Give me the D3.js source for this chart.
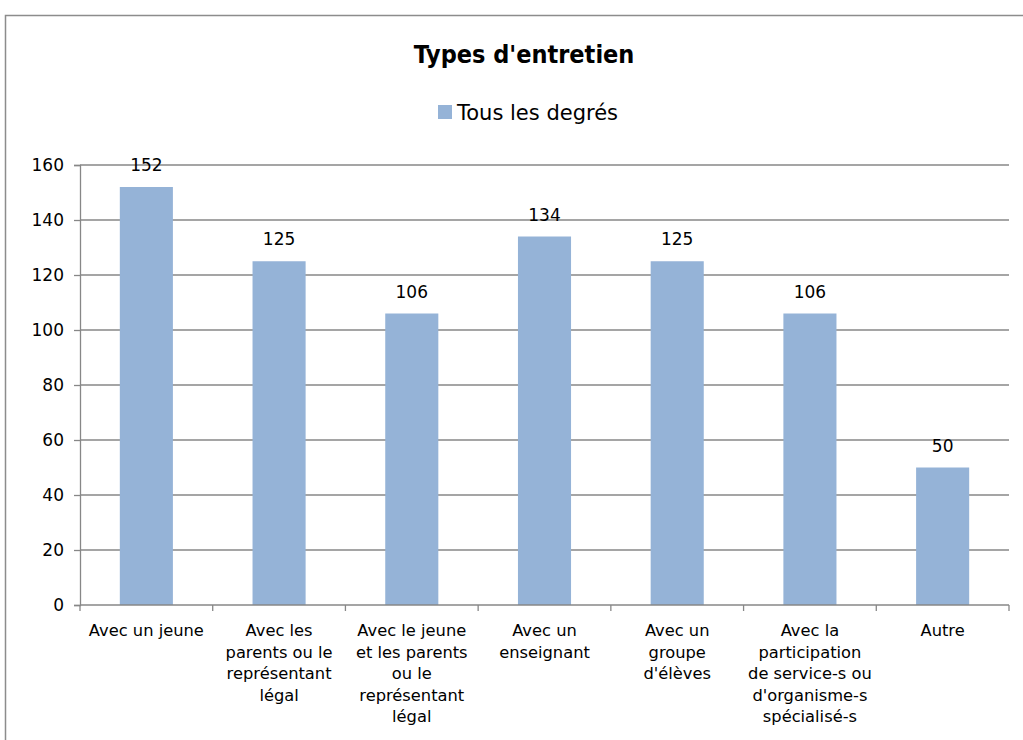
<!DOCTYPE html>
<html>
<head>
<meta charset="utf-8">
<script src="https://cdn.jsdelivr.net/npm/d3@7"></script>
<style>
  body { margin: 0; background: #fff; }
  text { font-family: "DejaVu Sans", sans-serif; fill: #000; }
</style>
</head>
<body>
<svg id="chart" width="1023" height="740"></svg>
<script>
const categories = [
  ["Avec un jeune"],
  ["Avec les", "parents ou le", "représentant", "légal"],
  ["Avec le jeune", "et les parents", "ou le", "représentant", "légal"],
  ["Avec un", "enseignant"],
  ["Avec un", "groupe", "d'élèves"],
  ["Avec la", "participation", "de service-s ou", "d'organisme-s", "spécialisé-s"],
  ["Autre"]
]
const values = [152, 125, 106, 134, 125, 106, 50]
const yTicks = [0, 20, 40, 60, 80, 100, 120, 140, 160]
const seriesName = "Tous les degrés"
const title = "Types d'entretien"

const svg = d3.select("#chart")

// outer frame
svg.append("rect")
  .attr("x", 5.5).attr("y", 15.5)
  .attr("width", 1040).attr("height", 760)
  .attr("fill", "none").attr("stroke", "#8c8c8c").attr("stroke-width", 1.5)

const plotLeft = 80, plotRight = 1009, plotTop = 165, plotBottom = 605

const x = d3.scaleBand()
  .domain(d3.range(categories.length))
  .range([plotLeft, plotRight])
  .paddingInner(0).paddingOuter(0)

const y = d3.scaleLinear().domain([0, 160]).range([plotBottom, plotTop])

// gridlines
svg.append("g").selectAll("line")
  .data(yTicks.filter(d => d > 0)).enter().append("line")
  .attr("x1", plotLeft).attr("x2", plotRight)
  .attr("y1", d => y(d)).attr("y2", d => y(d))
  .attr("stroke", "#878787").attr("stroke-width", 1.3)

// y axis
const yAxis = svg.append("g")
  .attr("transform", `translate(${plotLeft},0)`)
  .call(d3.axisLeft(y).tickValues(yTicks).tickSize(6).tickPadding(10))
yAxis.select(".domain").attr("stroke", "#878787").attr("stroke-width", 1.3)
yAxis.selectAll(".tick line").attr("stroke", "#878787").attr("stroke-width", 1.3)
yAxis.selectAll(".tick text").style("font-size", "17px").attr("fill", "#000")
  .style("font-family", "'DejaVu Sans', sans-serif")

// bars
const barW = x.bandwidth() * 0.4
svg.append("g").selectAll("rect")
  .data(values).enter().append("rect")
  .attr("x", (d, i) => x(i) + (x.bandwidth() - barW) / 2)
  .attr("y", d => y(d))
  .attr("width", barW)
  .attr("height", d => y(0) - y(d))
  .attr("fill", "#95b3d7")

// value labels
svg.append("g").selectAll("text")
  .data(values).enter().append("text")
  .attr("x", (d, i) => x(i) + x.bandwidth() / 2)
  .attr("y", d => y(d) - 16)
  .attr("text-anchor", "middle")
  .style("font-size", "17px")
  .text(d => d)

// x axis
svg.append("line")
  .attr("x1", plotLeft).attr("x2", plotRight)
  .attr("y1", plotBottom).attr("y2", plotBottom)
  .attr("stroke", "#878787").attr("stroke-width", 1.3)
svg.append("g").selectAll("line")
  .data(d3.range(categories.length + 1)).enter().append("line")
  .attr("x1", i => plotLeft + i * x.step()).attr("x2", i => plotLeft + i * x.step())
  .attr("y1", plotBottom).attr("y2", plotBottom + 6)
  .attr("stroke", "#878787").attr("stroke-width", 1.3)

// category labels
const catG = svg.append("g").selectAll("text")
  .data(categories).enter().append("text")
  .attr("text-anchor", "middle")
  .style("font-size", "16.3px")
catG.selectAll("tspan")
  .data((d, i) => d.map(line => ({ line, i })))
  .enter().append("tspan")
  .attr("x", d => x(d.i) + x.bandwidth() / 2)
  .attr("y", (d, j) => 636 + j * 21.5)
  .text(d => d.line)

// title
svg.append("text")
  .attr("x", 524).attr("y", 63)
  .attr("text-anchor", "middle")
  .style("font-size", "25px").style("font-weight", "bold")
  .style("font-family", "'DejaVu Sans Condensed', sans-serif")
  .text(title)

// legend
svg.append("rect")
  .attr("x", 438).attr("y", 105).attr("width", 14).attr("height", 14)
  .attr("fill", "#95b3d7")
svg.append("text")
  .attr("x", 457).attr("y", 120)
  .style("font-size", "21px")
  .text(seriesName)
</script>
</body>
</html>
